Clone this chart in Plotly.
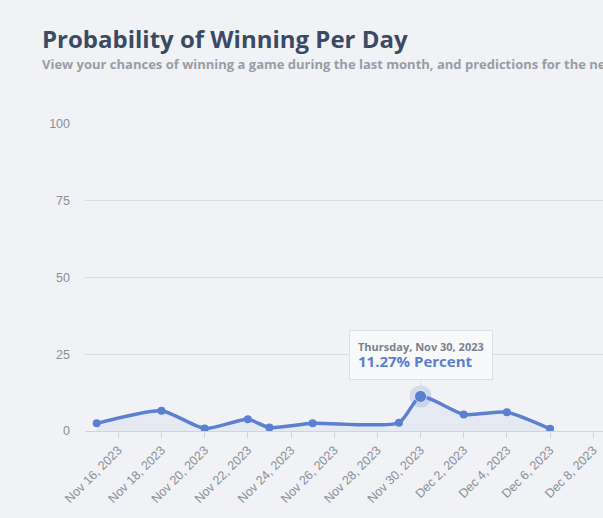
import plotly.graph_objects as go

dates = ["2023-11-15", "2023-11-18", "2023-11-20", "2023-11-22", "2023-11-23",
         "2023-11-25", "2023-11-29", "2023-11-30", "2023-12-02", "2023-12-04", "2023-12-06"]
values = [2.5, 6.6, 0.8, 3.8, 1.1, 2.5, 2.7, 11.27, 5.4, 6.1, 0.7]
tick_dates = ["2023-11-16", "2023-11-18", "2023-11-20", "2023-11-22", "2023-11-24", "2023-11-26",
              "2023-11-28", "2023-11-30", "2023-12-02", "2023-12-04", "2023-12-06", "2023-12-08"]
tick_labels = ["Nov 16, 2023", "Nov 18, 2023", "Nov 20, 2023", "Nov 22, 2023", "Nov 24, 2023",
               "Nov 26, 2023", "Nov 28, 2023", "Nov 30, 2023", "Dec 2, 2023", "Dec 4, 2023",
               "Dec 6, 2023", "Dec 8, 2023"]
y_ticks = [0, 25, 50, 75, 100]
hover_date = "2023-11-30"
hover_value = 11.27

LINE = "#5b80d1"
BG = "#f0f2f6"
W, H = 603, 518
ML, MT, MB = 85, 124, 87
pw, ph = W - ML, H - MT - MB
AXFONT = dict(family="Liberation Sans, Arial, sans-serif", size=12.5, color="#8a8f99")

fig = go.Figure()
fig.add_trace(go.Scatter(
    x=dates, y=values, mode="lines+markers",
    line=dict(color=LINE, width=3.5, shape="spline", smoothing=0.6),
    marker=dict(color=LINE, size=8),
    fill="tozeroy", fillcolor="rgba(91,128,209,0.08)",
    hoverinfo="skip", showlegend=False,
))
fig.add_trace(go.Scatter(
    x=[hover_date], y=[hover_value], mode="markers",
    marker=dict(color="rgba(91,128,209,0.2)", size=22),
    hoverinfo="skip", showlegend=False,
))
fig.add_trace(go.Scatter(
    x=[hover_date], y=[hover_value], mode="markers",
    marker=dict(color=LINE, size=12, line=dict(color="rgba(255,255,255,0.6)", width=1)),
    hoverinfo="skip", showlegend=False,
))

fig.add_annotation(
    x=hover_date, y=hover_value, xref="x", yref="y",
    text=("<span style='font-size:11px;color:#7c818c'><b>Thursday, Nov 30, 2023</b></span><br>"
          "<span style='font-size:15px;color:#5b7fd0'><b>11.27% Percent</b></span>"),
    showarrow=True, arrowhead=0, arrowwidth=1, arrowcolor="#dcdfe4",
    ax=0, ay=-16, standoff=10,
    align="left", xanchor="center", yanchor="bottom",
    bgcolor="#f8f9fb", bordercolor="#dcdfe4", borderwidth=1, borderpad=8,
    font=dict(family="Open Sans", size=12),
)

fig.add_annotation(
    x=(40 - ML) / pw, y=(H - MB - 38) / ph, xref="paper", yref="paper",
    text="Probability of Winning Per Day",
    showarrow=False, xanchor="left", yanchor="middle",
    font=dict(family="Open Sans", size=24, color="#3b4a63", weight=700),
)
fig.add_annotation(
    x=(40 - ML) / pw, y=(H - MB - 64) / ph, xref="paper", yref="paper",
    text="View your chances of winning a game during the last month, and predictions for the next week",
    showarrow=False, xanchor="left", yanchor="middle",
    font=dict(family="Open Sans", size=13, color="#989da7", weight=700),
)

fig.update_layout(
    width=W, height=H,
    margin=dict(l=ML, r=0, t=MT, b=MB),
    paper_bgcolor=BG, plot_bgcolor=BG,
    xaxis=dict(
        type="date", range=["2023-11-14 11:00", "2023-12-08 10:50"],
        tickvals=tick_dates, ticktext=tick_labels, tickangle=-45,
        ticks="outside", ticklen=6, tickcolor="#cfd3da",
        showgrid=False, showline=True, linecolor="#cfd3da", linewidth=1,
        tickfont=AXFONT, zeroline=False,
    ),
    yaxis=dict(
        range=[0, 100], tickvals=y_ticks, showgrid=True, gridcolor="#d8dbe0",
        zeroline=False, ticks="", ticklabelstandoff=14, tickfont=AXFONT,
    ),
)

fig.write_html("out.html", config={"displayModeBar": False},
               post_script="document.body.style.margin='0';document.body.style.background='#f0f2f6';")
